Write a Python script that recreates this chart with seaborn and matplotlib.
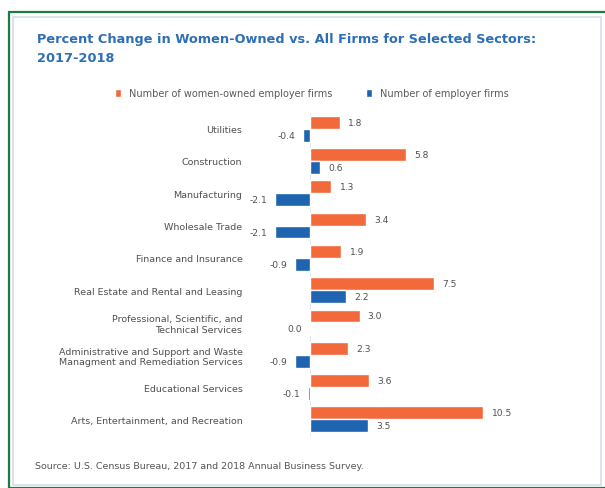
import pandas as pd
import matplotlib.pyplot as plt
import seaborn as sns
from matplotlib.patches import Rectangle

sectors = [
    "Utilities",
    "Construction",
    "Manufacturing",
    "Wholesale Trade",
    "Finance and Insurance",
    "Real Estate and Rental and Leasing",
    "Professional, Scientific, and\nTechnical Services",
    "Administrative and Support and Waste\nManagment and Remediation Services",
    "Educational Services",
    "Arts, Entertainment, and Recreation",
]
women_owned = [1.8, 5.8, 1.3, 3.4, 1.9, 7.5, 3.0, 2.3, 3.6, 10.5]
all_firms = [-0.4, 0.6, -2.1, -2.1, -0.9, 2.2, 0.0, -0.9, -0.1, 3.5]
series = ["Number of women-owned employer firms", "Number of employer firms"]
colors = ["#F2693B", "#1F64B1"]

df = pd.DataFrame({"Sector": sectors, series[0]: women_owned, series[1]: all_firms})
long_df = df.melt(id_vars="Sector", var_name="Series", value_name="Change")

sns.set_style("white")
fig = plt.figure(figsize=(6.05, 4.89), dpi=100)
W, H = 605, 489

# frame: green outer border, light inner border
fig.patches.append(Rectangle((9 / W, 0), 1, 1 - 13 / H, transform=fig.transFigure,
                             fill=False, edgecolor="#1E7A45", linewidth=1.6))
fig.patches.append(Rectangle((13 / W, 3 / H), (601 - 13) / W, (486 - 18) / H,
                             transform=fig.transFigure, fill=False,
                             edgecolor="#D5DDE8", linewidth=1.2))

# axes placed so 0 sits at x=310px, 16.5 px per unit
xmin, xmax = -3, 13
ppu = 16.5
left = 310 - (-xmin) * ppu
top, bottom = 113.5, 436.5
ax = fig.add_axes([left / W, 1 - bottom / H, (xmax - xmin) * ppu / W, (bottom - top) / H])

sns.barplot(data=long_df, x="Change", y="Sector", hue="Series", orient="h",
            palette=colors, width=0.8, ax=ax, legend=True, saturation=1)

ax.set_xlim(xmin, xmax)
ax.set_xlabel("")
ax.set_ylabel("")
ax.set_xticks([])
sns.despine(ax=ax, left=True, bottom=True)
ax.tick_params(axis="y", length=0, pad=13, labelsize=6.8, labelcolor="#505050")
for lab in ax.get_yticklabels():
    lab.set_linespacing(1.25)
ax.axvline(0, color="#D8E2EE", linewidth=0.6, zorder=0)

# value labels
for container in ax.containers:
    for bar in container:
        v = bar.get_width()
        y = bar.get_y() + bar.get_height() / 2
        if v > 0:
            ax.text(v + 0.5, y, f"{v:.1f}", ha="left", va="center",
                    fontsize=6.6, color="#505050")
        else:
            ax.text(v - 0.5, y, f"{v:.1f}", ha="right", va="center",
                    fontsize=6.6, color="#505050")

# legend
handles, labels = ax.get_legend_handles_labels()
ax.get_legend().remove()
fig.legend(handles, labels, loc="center", bbox_to_anchor=(312 / W, 1 - 94 / H),
           ncol=2, frameon=False, fontsize=7, handlelength=0.6, handleheight=0.9,
           handletextpad=0.8, columnspacing=3.5, labelcolor="#5A5A5A")

fig.text(37 / W, 1 - 40 / H, "Percent Change in Women-Owned vs. All Firms for Selected Sectors:",
         fontsize=9.3, fontweight="bold", color="#2D6EB5", va="center", ha="left")
fig.text(37 / W, 1 - 58 / H, "2017-2018",
         fontsize=9.3, fontweight="bold", color="#2D6EB5", va="center", ha="left")
fig.text(35 / W, 1 - 467 / H, "Source: U.S. Census Bureau, 2017 and 2018 Annual Business Survey.",
         fontsize=6.8, color="#555555", va="center", ha="left")

fig.savefig("out.png", dpi=100)
